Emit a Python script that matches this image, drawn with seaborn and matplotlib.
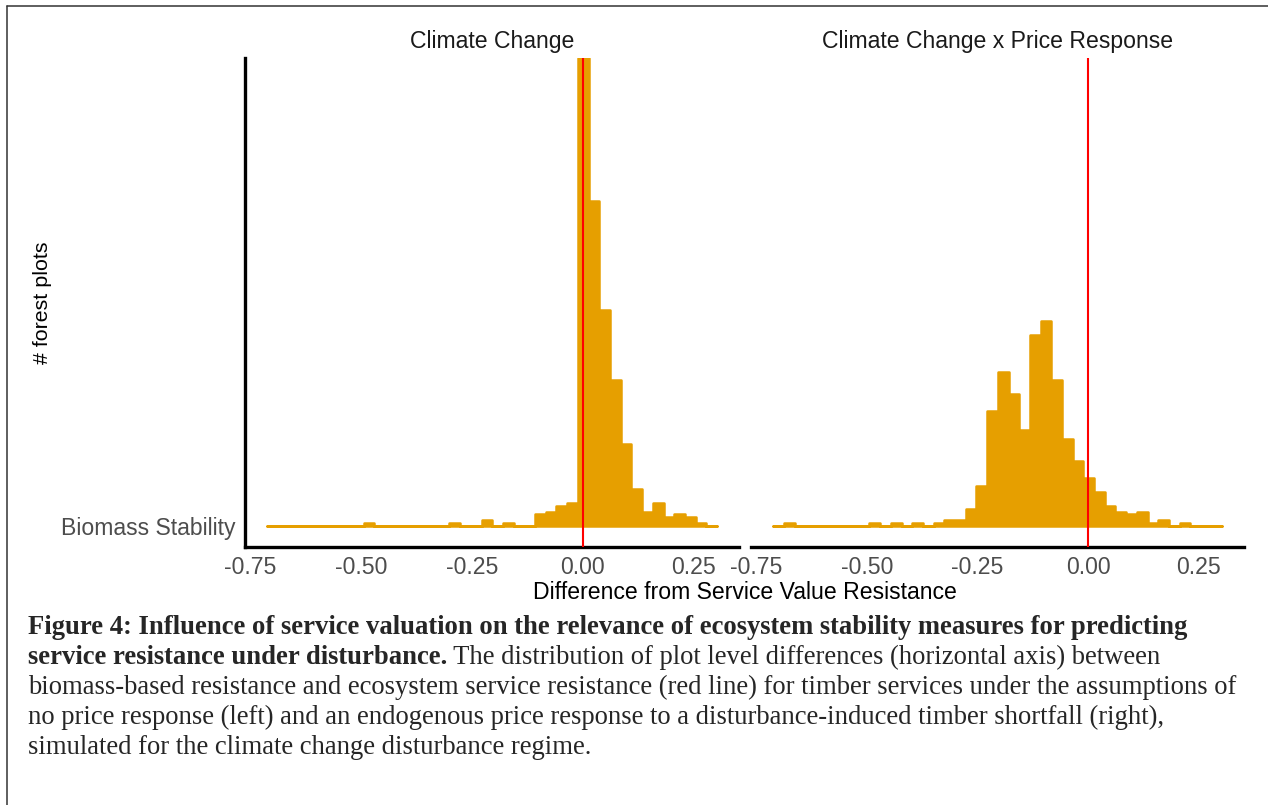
import numpy as np
import pandas as pd
import matplotlib
matplotlib.use("Agg")
import matplotlib.pyplot as plt
from matplotlib.lines import Line2D
import seaborn as sns

# Histogram bins shared by both panels
BIN_START = -0.7117
BIN_WIDTH = 0.02418
N_BINS = 42

# Number of forest plots per bin: no price response
counts_climate = [
    0, 0, 0, 0, 0, 0, 0, 0, 0, 1,
    0, 0, 0, 0, 0, 0, 0, 1, 0, 0,
    2, 0, 1, 0, 0, 4, 5, 7, 8, 167,
    116, 77, 52, 29, 13, 5, 8, 3, 4, 3,
    1, 0,
]
# Number of forest plots per bin: endogenous price response
counts_price = [
    0, 1, 0, 0, 0, 0, 0, 0, 0, 1,
    0, 1, 0, 1, 0, 1, 2, 2, 6, 14,
    41, 55, 47, 34, 68, 73, 52, 31, 23, 17,
    12, 7, 5, 4, 5, 1, 2, 0, 1, 0,
    0, 0,
]
panel_titles = ["Climate Change", "Climate Change x Price Response"]
ridge_label = "Biomass Stability"
x_ticks = [-0.75, -0.50, -0.25, 0.00, 0.25]
x_tick_labels = ["-0.75", "-0.50", "-0.25", "0.00", "0.25"]
service_resistance = 0.0

x_label = "Difference from Service Value Resistance"
y_label = "# forest plots"

caption_bold_1 = ("Figure 4: Influence of service valuation on the relevance of "
                  "ecosystem stability measures for predicting")
caption_bold_2 = "service resistance under disturbance."
caption_rest_2 = (" The distribution of plot level differences (horizontal axis) between")
caption_lines = [
    "biomass-based resistance and ecosystem service resistance (red line) for "
    "timber services under the assumptions of",
    "no price response (left) and an endogenous price response to a "
    "disturbance-induced timber shortfall (right),",
    "simulated for the climate change disturbance regime.",
]

edges = [BIN_START + BIN_WIDTH * k for k in range(N_BINS + 1)]
centers = [0.5 * (edges[k] + edges[k + 1]) for k in range(N_BINS)]
df = pd.concat([
    pd.DataFrame({"difference": centers, "plots": counts_climate, "panel": panel_titles[0]}),
    pd.DataFrame({"difference": centers, "plots": counts_price, "panel": panel_titles[1]}),
], ignore_index=True)

sns.set_theme(style="white")
plt.rcParams["font.family"] = ["Liberation Sans", "DejaVu Sans"]

W, H = 1268, 805
fig = plt.figure(figsize=(W / 100, H / 100), dpi=100)
fig.patch.set_facecolor("white")

def fx(px):
    return px / W

def fy(py):
    return 1 - py / H

panel_left = [245, 750.7]
panel_right = [739, 1244.4]
top_px, bottom_px = 58, 547

ORANGE = "#E69F00"
GREY = "#4D4D4D"
TXT = 16.6
ymax = max(max(counts_climate), max(counts_price))
xlim = (-0.7624, 0.3534)

axes = []
for i, title in enumerate(panel_titles):
    ax = fig.add_axes([fx(panel_left[i]), fy(bottom_px),
                       fx(panel_right[i] - panel_left[i]),
                       (bottom_px - top_px) / H])
    sub = df[df["panel"] == title]
    sns.histplot(data=sub, x="difference", weights="plots", bins=edges,
                 element="step", fill=True, color=ORANGE, alpha=1,
                 edgecolor=ORANGE, linewidth=1.8, ax=ax)
    ax.axvline(service_resistance, color="#FF0000", lw=1.5, zorder=5)
    ax.set_xlim(*xlim)
    ax.set_ylim(-0.0456 * ymax, ymax)
    ax.set_xticks(x_ticks)
    ax.set_xticklabels(x_tick_labels)
    ax.tick_params(axis="x", length=0, pad=6.3, labelsize=TXT, labelcolor=GREY)
    ax.set_xlabel("")
    ax.set_ylabel("")
    ax.set_title(title, fontsize=TXT, color="#1A1A1A", pad=7)
    for s in ["top", "right"]:
        ax.spines[s].set_visible(False)
    ax.spines["bottom"].set_color("black")
    ax.spines["bottom"].set_linewidth(2.4)
    if i == 0:
        ax.spines["left"].set_color("black")
        ax.spines["left"].set_linewidth(2.4)
        ax.set_yticks([0])
        ax.set_yticklabels([ridge_label])
        ax.tick_params(axis="y", length=0, pad=7, labelsize=TXT, labelcolor=GREY)
    else:
        ax.spines["left"].set_visible(False)
        ax.set_yticks([])
    ax.set_facecolor("white")
    axes.append(ax)

fig.text(fx(744.7), fy(598.5), x_label, ha="center", va="baseline",
         fontsize=TXT, color="black")
fig.text(fx(43), fy(303), y_label, ha="center", va="center",
         rotation=90, fontsize=15.4, color="black")

# Caption below the figure
serif = ["Liberation Serif", "DejaVu Serif"]
cap_size = 19.2
cap_x = fx(28)
base0 = 633.5
step = 30
fig.text(cap_x, fy(base0), caption_bold_1, family=serif, weight="bold",
         fontsize=cap_size, va="baseline", ha="left")
t_bold = fig.text(cap_x, fy(base0 + step), caption_bold_2, family=serif,
                  weight="bold", fontsize=cap_size, va="baseline", ha="left")
renderer = fig.canvas.get_renderer()
bb = t_bold.get_window_extent(renderer=renderer)
fig.text(bb.x1 / W, fy(base0 + step), caption_rest_2, family=serif,
         fontsize=cap_size, va="baseline", ha="left")
for j, line in enumerate(caption_lines):
    fig.text(cap_x, fy(base0 + step * (j + 2)), line, family=serif,
             fontsize=cap_size, va="baseline", ha="left")

# Page frame on the left and top edges
frame_color = "#333333"
fig.add_artist(Line2D([fx(7), fx(7)], [0, fy(6)], color=frame_color, lw=1.1))
fig.add_artist(Line2D([fx(7), 1], [fy(6), fy(6)], color=frame_color, lw=1.1))

fig.savefig("out.png", dpi=100, facecolor="white")
